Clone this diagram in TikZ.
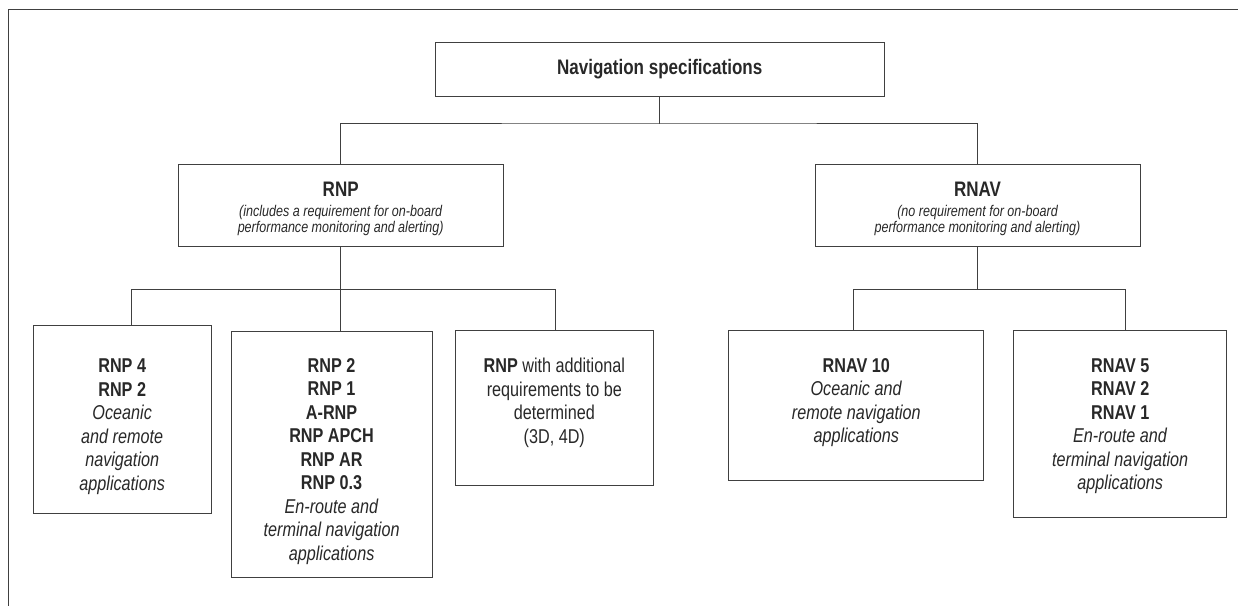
\documentclass[tikz,border=0pt]{standalone}
\usepackage{fontspec}
\setmainfont{Liberation Sans}[FakeStretch=0.81]

\definecolor{linegray}{HTML}{404040}
\definecolor{textgray}{HTML}{282828}

% strut that lowers the first line of a box
\newcommand{\boxgap}[1]{\rule{0pt}{#1}}

\tikzset{
  specbox/.style={draw=linegray, line width=1pt, align=center, inner sep=2pt,
    text=textgray, font=\fontsize{20}{23.5}\selectfont},
  headbox/.style={specbox, font=\fontsize{15.5}{16}\selectfont\itshape},
  link/.style={draw=linegray, line width=1pt},
}

\begin{document}
\begin{tikzpicture}[x=1pt, y=-1pt, line cap=rect, line join=miter]
  \useasboundingbox (0,0) rectangle (1238,605);

  % Page frame (top and left edges only)
  \draw[link] (8.5,605) -- (8.5,9) -- (1238,9);

  % Top level
  \node[specbox, minimum width=449, minimum height=54] (nav) at (659.7,69)
    {\fontsize{21}{23}\selectfont\bfseries Navigation specifications};

  % Second level
  \node[headbox, minimum width=325, minimum height=82] (rnp) at (340.7,205)
    {\boxgap{23pt}{\fontsize{21}{16}\selectfont\upshape\bfseries RNP}\\[4pt]
     (includes a requirement for on-board\\performance monitoring and alerting)};
  \node[headbox, minimum width=325, minimum height=82] (rnav) at (977.5,205)
    {\boxgap{23pt}{\fontsize{21}{16}\selectfont\upshape\bfseries RNAV}\\[4pt]
     (no requirement for on-board\\performance monitoring and alerting)};

  % Third level, RNP side
  \node[specbox, minimum width=178, minimum height=187.6] (rnpfour) at (122.2,419.5)
    {\boxgap{28pt}\textbf{RNP 4}\\\textbf{RNP 2}\\\textit{Oceanic}\\\textit{and remote}\\
     \textit{navigation}\\\textit{applications}};
  \node[specbox, minimum width=201, minimum height=246] (rnptwo) at (331.6,454.7)
    {\boxgap{27.5pt}\textbf{RNP 2}\\\textbf{RNP 1}\\\textbf{A-RNP}\\\textbf{RNP APCH}\\
     \textbf{RNP AR}\\\textbf{RNP 0.3}\\\textit{En-route and}\\
     \textit{terminal navigation}\\\textit{applications}};
  \node[specbox, minimum width=198.6, minimum height=154.7] (rnpadd) at (554.3,407.7)
    {\textbf{RNP} with additional\\requirements to be\\determined\\(3D, 4D)\\[-9.5pt]};

  % Third level, RNAV side
  \node[specbox, minimum width=255, minimum height=150] (rnavten) at (856.3,405)
    {\textbf{RNAV 10}\\\textit{Oceanic and}\\\textit{remote navigation}\\
     \textit{applications}\\[-15pt]};
  \node[specbox, minimum width=212.7, minimum height=187] (rnavfive) at (1120.2,423.7)
    {\boxgap{18.5pt}\textbf{RNAV 5}\\\textbf{RNAV 2}\\\textbf{RNAV 1}\\\textit{En-route and}\\
     \textit{terminal navigation}\\\textit{applications}};

  % Bus points
  \coordinate (navbus)  at (659.7,123);
  \coordinate (rnpbus)  at (340.7,289);
  \coordinate (dropa)   at (131.7,289);
  \coordinate (dropc)   at (555.6,289);
  \coordinate (rnavbus) at (977.5,289);
  \coordinate (dropd)   at (853.7,289);
  \coordinate (drope)   at (1125.7,289);

  % Connectors
  \draw[link] (nav.south) -- (navbus);
  \draw[link] (rnp.north) |- (navbus) -| (rnav.north);

  \draw[link] (rnp.south) -- (rnpbus) -- (rnpbus |- rnptwo.north);
  \draw[link] (dropa |- rnpfour.north) -- (dropa) -- (dropc) -- (dropc |- rnpadd.north);

  \draw[link] (rnav.south) -- (rnavbus);
  \draw[link] (dropd |- rnavten.north) -- (dropd) -- (drope) -- (drope |- rnavfive.north);

\end{tikzpicture}
\end{document}
